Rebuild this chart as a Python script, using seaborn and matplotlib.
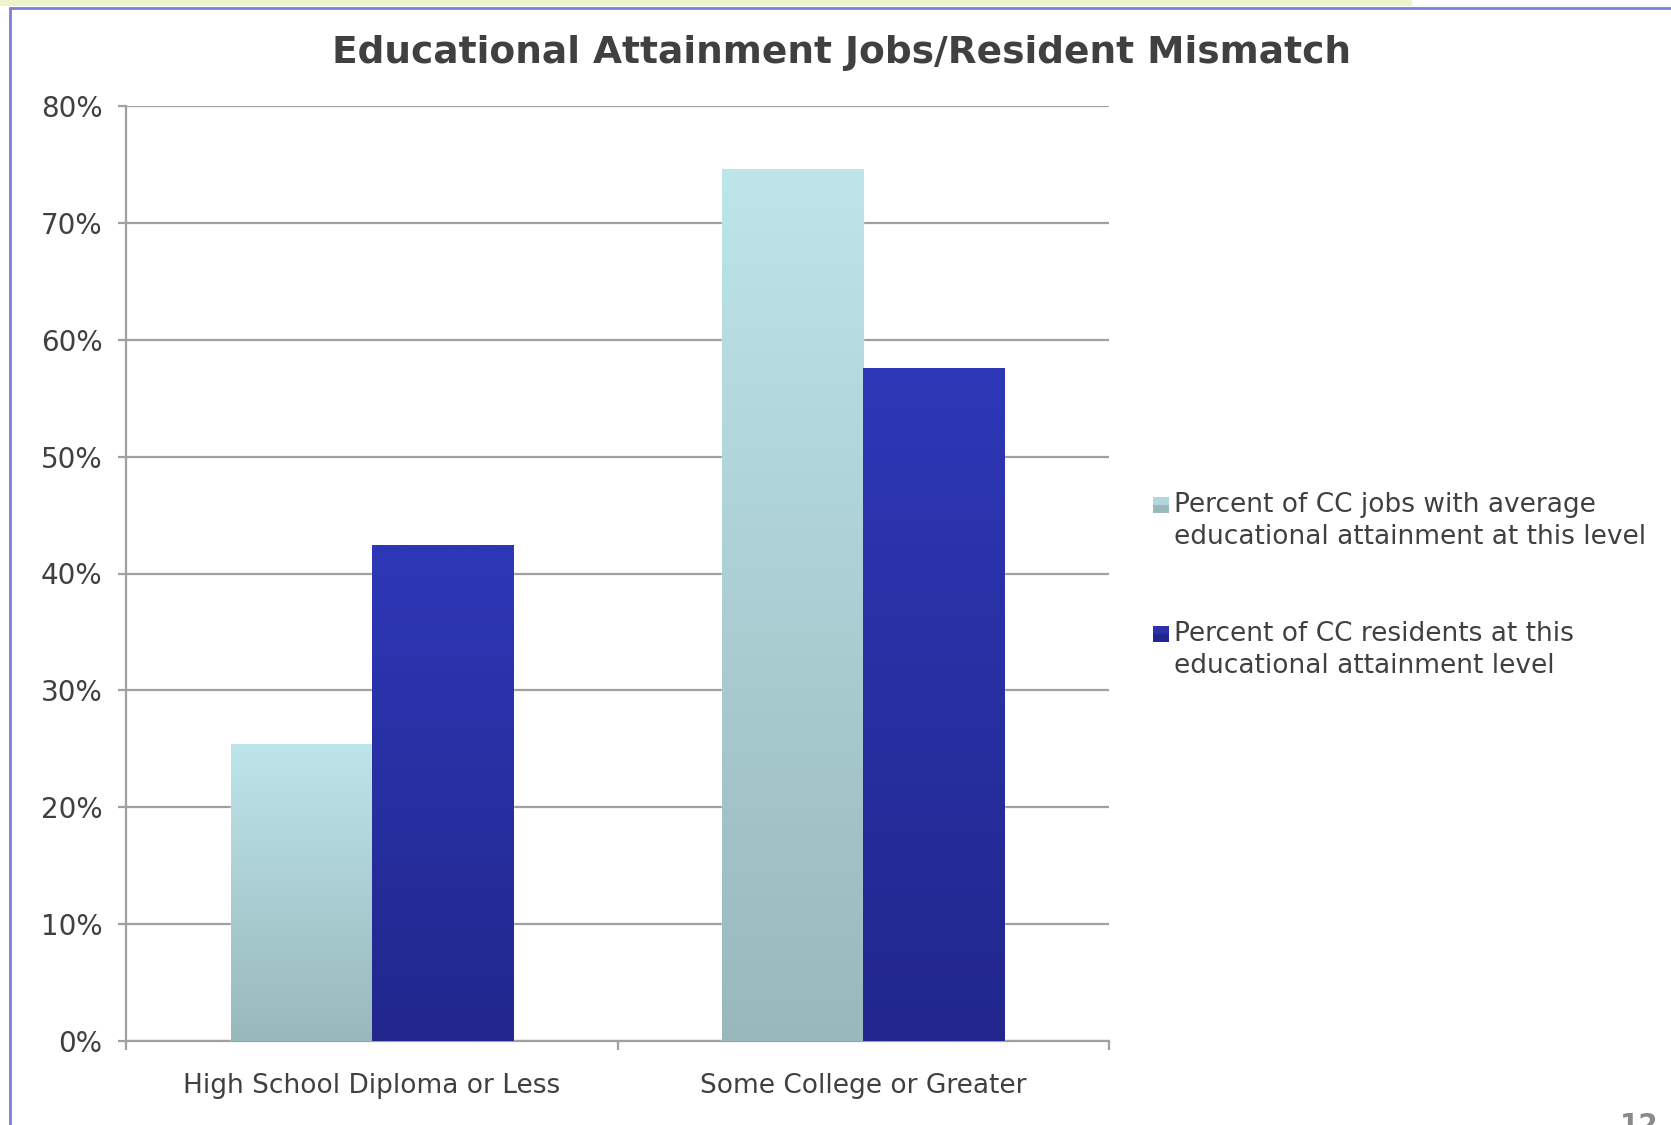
import numpy as np
import pandas as pd
import matplotlib
matplotlib.use("Agg")
import matplotlib.pyplot as plt
import seaborn as sns
from matplotlib.patches import Rectangle
from matplotlib.lines import Line2D
from matplotlib.colors import LinearSegmentedColormap
from matplotlib.ticker import FixedLocator

# ---------------- data ----------------
title = "Educational Attainment Jobs/Resident Mismatch"
categories = ["High School Diploma or Less", "Some College or Greater"]
series_names = [
    "Percent of CC jobs with average\neducational attainment at this level",
    "Percent of CC residents at this\neducational attainment level",
]
jobs_pct = [25.4, 74.6]
residents_pct = [42.4, 57.6]
y_ticks = [0, 10, 20, 30, 40, 50, 60, 70, 80]
y_tick_labels = ["0%", "10%", "20%", "30%", "40%", "50%", "60%", "70%", "80%"]
page_number = "12"

# colours (top, bottom) for gradient fills
light_top, light_bot = "#BDE5EA", "#98B8BC"
dark_top, dark_bot = "#2E37B7", "#21278C"
text_col = "#404040"
axis_col = "#A0A0A0"

W, H = 1671, 1125

sns.set_theme(style="white")
plt.rcParams["font.family"] = ["DejaVu Sans"]

df = pd.DataFrame({
    "category": categories * 2,
    "series": [series_names[0]] * len(categories) + [series_names[1]] * len(categories),
    "value": jobs_pct + residents_pct,
})

fig = plt.figure(figsize=(W / 100, H / 100), dpi=100)
fig.patch.set_facecolor("white")
ax = fig.add_axes([126 / W, 1 - 1041 / H, (1109 - 126) / W, (1041 - 106) / H])

sns.barplot(data=df, x="category", y="value", hue="series", hue_order=series_names,
            order=categories, palette=["#ADD3D8", "#2A31A4"], width=0.574,
            saturation=1, ax=ax, legend=False, zorder=3)

# gradient fills clipped to each bar
grad = np.linspace(0, 1, 256).reshape(-1, 1)
cmaps = [LinearSegmentedColormap.from_list("l", [light_bot, light_top]),
         LinearSegmentedColormap.from_list("d", [dark_bot, dark_top])]
for cont, cm in zip(ax.containers, cmaps):
    for bar in cont:
        x0, w, h = bar.get_x(), bar.get_width(), bar.get_height()
        im = ax.imshow(grad, cmap=cm, origin="lower", aspect="auto",
                       extent=[x0, x0 + w, 0, h], zorder=3.1, interpolation="bilinear")
        im.set_clip_path(bar)

ax.set_xlim(-0.5, 1.5)
ax.set_ylim(0, 80)
ax.set_xlabel("")
ax.set_ylabel("")

# grid & spines
ax.set_axisbelow(True)
ax.yaxis.grid(True, color=axis_col, linewidth=1.6)
ax.xaxis.grid(False)
for s in ["top", "right"]:
    ax.spines[s].set_visible(False)
for s in ["left", "bottom"]:
    ax.spines[s].set_color(axis_col)
    ax.spines[s].set_linewidth(1.6)

ax.set_yticks(y_ticks)
ax.set_yticklabels(y_tick_labels)
ax.tick_params(axis="y", which="major", direction="out", length=6, width=1.6,
               color=axis_col, labelsize=20, labelcolor=text_col, pad=11, left=True)
ax.set_xticks(range(len(categories)))
ax.set_xticklabels(categories)
ax.xaxis.set_minor_locator(FixedLocator([-0.5, 0.5, 1.5]))
ax.tick_params(axis="x", which="major", length=0, labelsize=19, labelcolor=text_col, pad=23)
ax.tick_params(axis="x", which="minor", direction="out", length=6.5, width=1.6,
               color=axis_col, bottom=True)

# title
fig.suptitle(title, x=842 / W, y=1 - 53 / H, va="center", ha="center",
             fontsize=27, fontweight="bold", color=text_col)

# manual legend
leg_entries = [(series_names[0], light_top, light_bot, 505),
               (series_names[1], dark_top, dark_bot, 634)]
for label, ctop, cbot, yc in leg_entries:
    sq = 16
    fig.add_artist(Rectangle((1153 / W, 1 - (yc + sq / 2) / H), sq / W, sq / H,
                             transform=fig.transFigure, facecolor=cbot, edgecolor="none"))
    fig.add_artist(Rectangle((1153 / W, 1 - yc / H), sq / W, (sq / 2) / H,
                             transform=fig.transFigure, facecolor=ctop, edgecolor="none", alpha=0.7))
    for i, line in enumerate(label.split("\n")):
        fig.text(1174 / W, 1 - (yc + 32 * i) / H, line, ha="left", va="center",
                 fontsize=19, color=text_col)

# slide decorations
fig.add_artist(Rectangle((0, 1 - 6 / H), 1412 / W, 6 / H, transform=fig.transFigure,
                         facecolor="#EEF3CC", edgecolor="none"))
fig.add_artist(Line2D([10 / W, 1], [1 - 7.5 / H, 1 - 7.5 / H], transform=fig.transFigure,
                      color="#7B80D6", linewidth=2))
fig.add_artist(Line2D([10 / W, 10 / W], [0, 1 - 7.5 / H], transform=fig.transFigure,
                      color="#7B80D6", linewidth=2))
fig.text(1620 / W, 1 - 1112 / H, page_number, ha="left", va="top", fontsize=20,
         fontweight="bold", color="#8A8A8A")

fig.savefig("out.png", dpi=100, facecolor="white")
